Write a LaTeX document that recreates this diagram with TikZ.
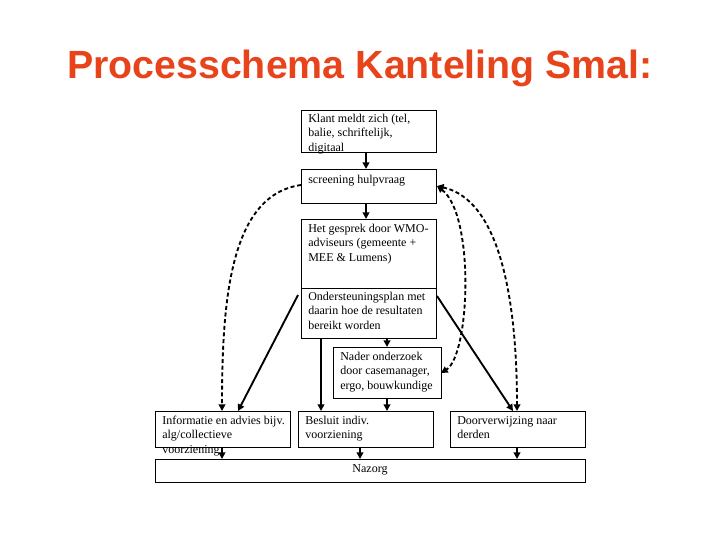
\documentclass[tikz,border=0pt]{standalone}
\usepackage{fontspec}
\setmainfont{Liberation Serif}
\newfontfamily\titlefont{Liberation Sans}
\usetikzlibrary{arrows.meta}
\definecolor{ttl}{HTML}{E8441C}
\begin{document}
\begin{tikzpicture}[x=0.75pt,y=-0.75pt,
  box/.style={draw,line width=0.6pt,rectangle,inner sep=0pt},
  txt/.style={anchor=north west,align=left,font=\fontsize{9}{10.7}\selectfont,inner sep=0pt},
  arr/.style={line width=1.4pt,-{Triangle[length=5pt,width=5pt]}},
  darr/.style={line width=1.4pt,dash pattern=on 3pt off 2pt,-{Triangle[length=5pt,width=5pt]}},
  ddarr/.style={line width=1.4pt,dash pattern=on 3pt off 2pt,{Triangle[length=5pt,width=5pt]}-{Triangle[length=5pt,width=5pt]}}]
\useasboundingbox (0,0) rectangle (720,540);
\node[font=\titlefont\bfseries\fontsize{29.5}{32}\selectfont,text=ttl] (title) at (360,68) {Processchema Kanteling Smal:};
\draw[box] (301,110) rectangle (436,152);
\node[txt] (t1) at (308,114) {Klant meldt zich (tel,\\balie, schriftelijk,\\digitaal};
\draw[box] (301,169) rectangle (436,203);
\node[txt] (t2) at (308,175) {screening hulpvraag};
\draw[box] (301,219) rectangle (436,288);
\node[txt] (t3) at (308,224) {Het gesprek door WMO-\\adviseurs (gemeente +\\MEE \& Lumens)};
\draw[box] (301,288) rectangle (436,338);
\node[txt] (t4) at (308,292) {Ondersteuningsplan met\\daarin hoe de resultaten\\bereikt worden};
\draw[box] (333,347) rectangle (441,398);
\node[txt] (t5) at (340,352) {Nader onderzoek\\door casemanager,\\ergo, bouwkundige};
\draw[box] (155,411) rectangle (290,447);
\node[txt] (t6) at (162,416) {Informatie en advies bijv.\\alg/collectieve\\voorziening};
\draw[box] (298,411) rectangle (433,447);
\node[txt] (t7) at (305,416) {Besluit indiv.\\voorziening};
\draw[box] (450,411) rectangle (585,447);
\node[txt] (t8) at (457,416) {Doorverwijzing naar\\derden};
\draw[box] (155,459) rectangle (585,482);
\node[font=\fontsize{9}{10}\selectfont,inner sep=0pt] (t9) at (370,470) {Nazorg};
% solid arrows
\draw[arr] (366,152) -- (366,169);
\draw[arr] (366,203) -- (366,219);
\draw[arr] (387,338) -- (387,347);
\draw[arr] (387,398) -- (387,411);
\draw[arr] (321,338) -- (321,411);
\draw[arr] (298,295) -- (238,411);
\draw[arr] (437,296) -- (513,411);
\draw[arr] (222,447) -- (222,459);
\draw[arr] (360,447) -- (360,459);
\draw[arr] (517,447) -- (517,459);
% dashed
\draw[darr] (301,185) .. controls (230,195) and (222,300) .. (222,411);
\draw[ddarr] (437,186) .. controls (500,200) and (517,300) .. (517,411);
\draw[ddarr] (437,186) .. controls (475,215) and (470,355) .. (441,373);
\end{tikzpicture}
\end{document}
